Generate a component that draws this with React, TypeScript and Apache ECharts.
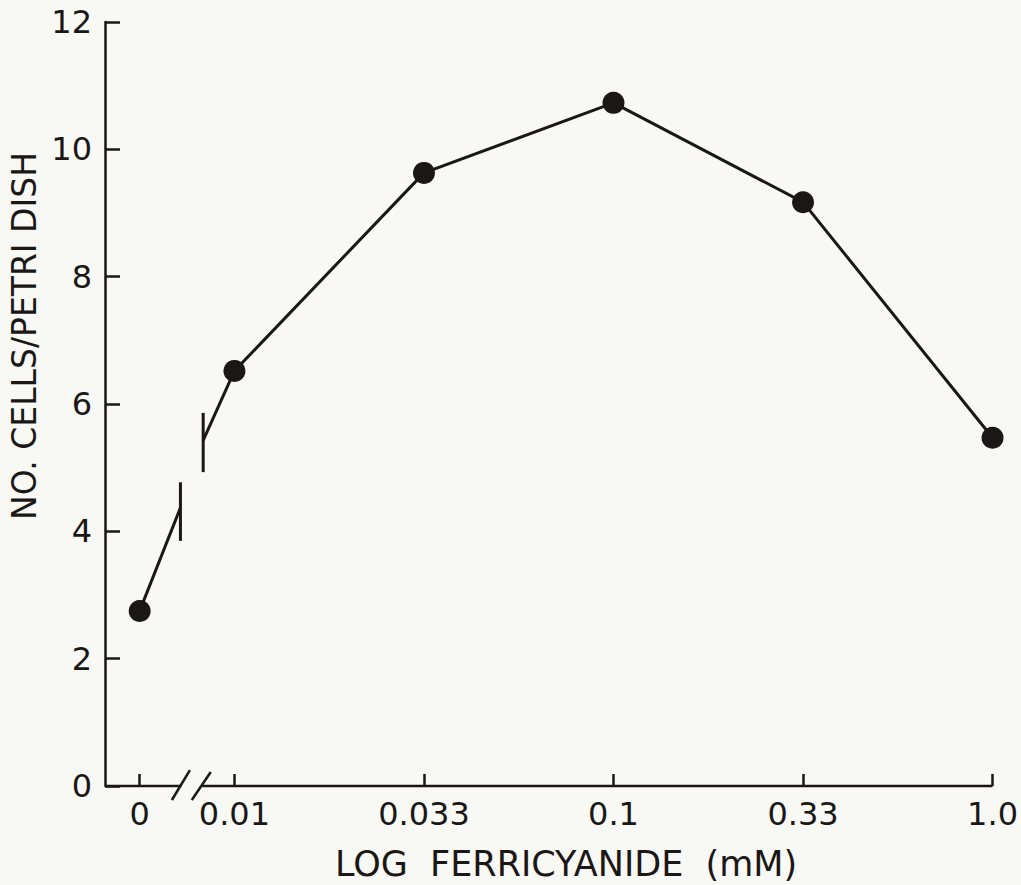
import React, { useEffect, useRef } from "react";
import * as echarts from "echarts";

// Category positions along the x axis (half-decade units, log scale); 0 sits before the axis break
const xPositions = [0, 1, 3, 5, 7, 9];
const xTickLabels = ["0", "0.01", "0.033", "0.1", "0.33", "1.0"];
const cellsPerDish = [2.75, 6.52, 9.63, 10.73, 9.17, 5.47];
const yTicks = [0, 2, 4, 6, 8, 10, 12];

// Broken-line pieces between the 0 point and 0.01 point
const breakSegA = [[0, 2.75], [0.43, 4.37]];
const breakSegB = [[0.67, 5.43], [1, 6.52]];
const breakBarA = [[0.43, 3.85], [0.43, 4.77]];
const breakBarB = [[0.67, 4.93], [0.67, 5.86]];
// Axis line pieces and break slashes
const X_MIN = -0.366;
const X_MAX = 9;
const axisSegLeft = [[X_MIN, 0], [0.44, 0]];
const axisSegRight = [[0.66, 0], [X_MAX, 0]];
const slash1 = [[0.34, -0.22], [0.53, 0.25]];
const slash2 = [[0.55, -0.22], [0.75, 0.22]];

const INK = "#1a1716";
const BG = "#f8f8f4";
const FONT = "DejaVu Sans";

function seg(name: string, data: number[][], width = 3) {
  return {
    name,
    type: "line",
    data,
    symbol: "none",
    silent: true,
    clip: false,
    lineStyle: { color: INK, width, cap: "butt" },
    z: 3,
  };
}

export default function App() {
  const ref = useRef<HTMLDivElement>(null);
  useEffect(() => {
    if (!ref.current) return;
    const chart = echarts.init(ref.current, undefined, { renderer: "svg" });
    chart.setOption({
      animation: false,
      backgroundColor: BG,
      grid: { left: 105, right: 21, top: 22, bottom: 99 },
      xAxis: {
        type: "value",
        min: X_MIN,
        max: X_MAX,
        splitLine: { show: false },
        axisLine: { show: false },
        axisTick: {
          show: true,
          inside: true,
          length: 12,
          customValues: xPositions,
          lineStyle: { color: INK, width: 2.5 },
        },
        axisLabel: {
          show: true,
          customValues: xPositions,
          margin: 12,
          fontSize: 32,
          fontFamily: FONT,
          color: INK,
          formatter: (v: number) => {
            const i = xPositions.indexOf(Math.round(v));
            return i >= 0 ? xTickLabels[i] : "";
          },
        },
      },
      yAxis: {
        type: "value",
        min: 0,
        max: 12,
        interval: 2,
        splitLine: { show: false },
        axisLine: { show: true, onZero: false, lineStyle: { color: INK, width: 2.5 } },
        axisTick: {
          show: true,
          inside: true,
          length: 15,
          customValues: yTicks,
          lineStyle: { color: INK, width: 2.5 },
        },
        axisLabel: {
          margin: 13,
          fontSize: 32,
          fontFamily: FONT,
          color: INK,
        },
      },
      graphic: [
        {
          type: "text",
          x: 24,
          y: 336,
          rotation: Math.PI / 2,
          style: {
            text: "NO. CELLS/PETRI DISH",
            fill: INK,
            font: `33px "${FONT}"`,
            textAlign: "center",
            textVerticalAlign: "middle",
          },
        },
        {
          type: "text",
          x: 566,
          y: 864,
          style: {
            text: "LOG  FERRICYANIDE  (mM)",
            fill: INK,
            font: `35px "${FONT}"`,
            textAlign: "center",
            textVerticalAlign: "middle",
          },
        },
      ],
      series: [
        seg("axisLeft", axisSegLeft, 2.5),
        seg("axisRight", axisSegRight, 2.5),
        seg("slash1", slash1, 2.5),
        seg("slash2", slash2, 2.5),
        seg("breakA", breakSegA),
        seg("breakB", breakSegB),
        seg("barA", breakBarA),
        seg("barB", breakBarB),
        {
          name: "zero",
          type: "scatter",
          data: [[xPositions[0], cellsPerDish[0]]],
          symbol: "circle",
          symbolSize: 22,
          itemStyle: { color: INK, opacity: 1 },
          clip: false,
          z: 5,
        },
        {
          name: "cells",
          type: "line",
          data: xPositions.slice(1).map((x, i) => [x, cellsPerDish[i + 1]]),
          symbol: "circle",
          symbolSize: 22,
          showSymbol: true,
          clip: false,
          lineStyle: { color: INK, width: 3 },
          itemStyle: { color: INK, opacity: 1 },
          z: 5,
        },
      ],
    });
    return () => chart.dispose();
  }, []);
  return (
    <div
      ref={ref}
      style={{ position: "fixed", left: 0, top: 0, width: 1021, height: 885 }}
    />
  );
}
